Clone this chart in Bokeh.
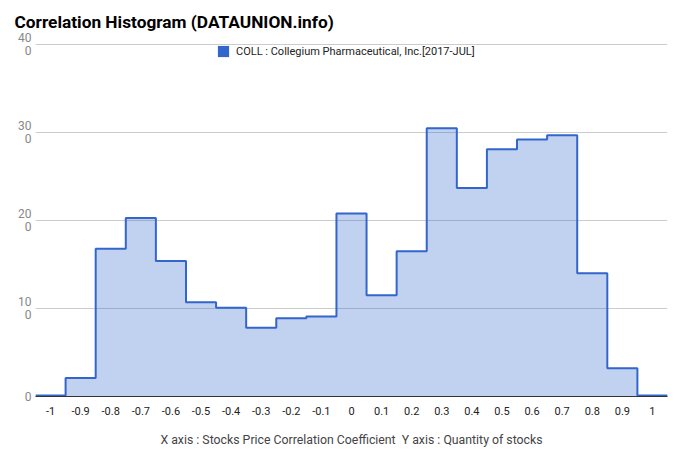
from bokeh.plotting import figure
from bokeh.models import Range1d, FixedTicker, Legend, LegendItem
from bokeh.embed import file_html
from bokeh.resources import INLINE

# ---- data ----
title_text = "Correlation Histogram (DATAUNION.info)"
series_name = "COLL : Collegium Pharmaceutical, Inc.[2017-JUL]"
axis_title = "X axis : Stocks Price Correlation Coefficient \u00a0Y axis : Quantity of stocks"
bins = [-1.0, -0.9, -0.8, -0.7, -0.6, -0.5, -0.4, -0.3, -0.2, -0.1, 0.0,
        0.1, 0.2, 0.3, 0.4, 0.5, 0.6, 0.7, 0.8, 0.9, 1.0]
counts = [1, 21, 168, 203, 154, 107, 101, 78, 89, 91, 208,
          115, 165, 305, 237, 281, 292, 297, 140, 32, 1]
x_tick_labels = ["-1", "-0.9", "-0.8", "-0.7", "-0.6", "-0.5", "-0.4", "-0.3", "-0.2", "-0.1", "0",
                 "0.1", "0.2", "0.3", "0.4", "0.5", "0.6", "0.7", "0.8", "0.9", "1"]
y_ticks = [0, 100, 200, 300, 400]
y_tick_labels = ["0", "10\n\u00a00", "20\n\u00a00", "30\n\u00a00", "40\n\u00a00"]
bin_width = 0.1

FONT = "Roboto"
BLUE = "#3366cc"

half = bin_width / 2
edges = [b - half for b in bins] + [bins[-1] + half]
ys = counts + [counts[-1]]
x_start = bins[0] - half

p = figure(width=672, height=454, output_backend="svg", toolbar_location=None,
           x_range=Range1d(x_start, bins[-1] + half),
           y_range=Range1d(y_ticks[0], y_ticks[-1] * 1.003),
           min_border_left=35, min_border_right=5, min_border_top=43, min_border_bottom=58)
p.outline_line_color = None
p.background_fill_color = "white"
p.border_fill_color = "white"

p.varea_step(x=edges, y1=[0] * len(ys), y2=ys, step_mode="after",
             fill_color=BLUE, fill_alpha=0.3)
p.step(x=edges, y=ys, mode="after", line_color=BLUE, line_width=2)

# renderer only used for the legend swatch (not drawn)
swatch = p.quad(left=edges[:-1], right=edges[1:], top=counts, bottom=0,
                fill_color=BLUE, line_color=None)
swatch.visible = False
legend = Legend(items=[LegendItem(label=series_name, renderers=[swatch])],
                location="top_center", orientation="horizontal",
                border_line_color=None, background_fill_alpha=0,
                margin=1, padding=0, glyph_width=14, glyph_height=14,
                label_standoff=6, label_height=14, label_width=250,
                label_text_font_size="11px", label_text_color="#222222",
                label_text_font=FONT)
p.add_layout(legend)

# title
p.title.text = title_text
p.title.text_font = FONT
p.title.text_font_size = "17.3px"
p.title.text_font_style = "bold"
p.title.text_color = "#000000"
p.title.align = "left"
p.title.vertical_align = "top"
p.title.offset = -21
p.title.standoff = 20

# grids
p.xgrid.visible = False
p.ygrid.grid_line_color = "#cccccc"
p.ygrid.grid_line_width = 1

# y axis
p.yaxis.ticker = FixedTicker(ticks=y_ticks)
p.yaxis.major_label_overrides = dict(zip(y_ticks, y_tick_labels))
p.yaxis.axis_line_color = None
p.yaxis.major_tick_line_color = None
p.yaxis.minor_tick_line_color = None
p.yaxis.major_label_text_color = "#888888"
p.yaxis.major_label_text_font = FONT
p.yaxis.major_label_text_font_size = "12px"
p.yaxis.major_label_text_line_height = 0.9
p.yaxis.major_label_standoff = -2

# x axis
p.xaxis.ticker = FixedTicker(ticks=bins)
p.xaxis.major_label_overrides = dict(zip(bins, x_tick_labels))
p.xaxis.axis_line_color = "#333333"
p.xaxis.axis_line_width = 1
p.xaxis.major_tick_line_color = None
p.xaxis.minor_tick_line_color = None
p.xaxis.major_label_text_color = "#222222"
p.xaxis.major_label_text_font = FONT
p.xaxis.major_label_text_font_size = "11px"
p.xaxis.major_label_standoff = 4
p.xaxis.axis_label = axis_title
p.xaxis.axis_label_text_font = FONT
p.xaxis.axis_label_text_font_style = "normal"
p.xaxis.axis_label_text_font_size = "12.3px"
p.xaxis.axis_label_text_color = "#444444"
p.xaxis.axis_label_standoff = 15

open("out.html", "w").write(file_html(p, INLINE))
